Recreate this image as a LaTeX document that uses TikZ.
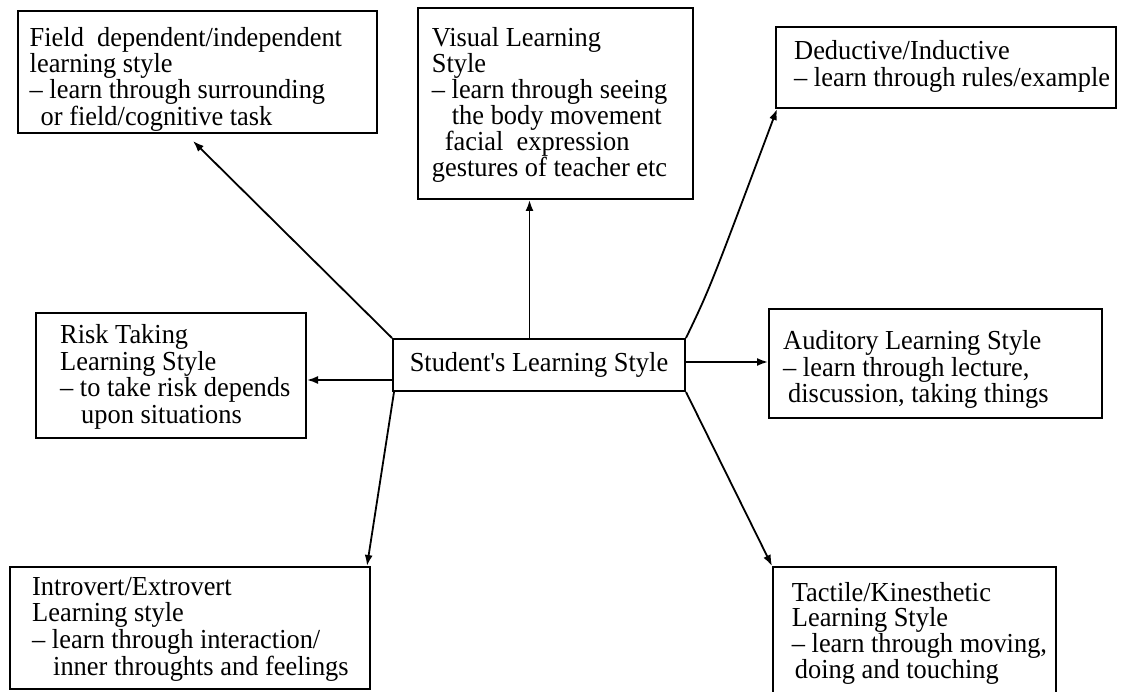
\documentclass[tikz,border=0pt]{standalone}
\usepackage{fontspec}
\setmainfont{Liberation Serif}[FakeStretch=0.96,Ligatures=TeXOff]
\usetikzlibrary{arrows.meta}
\newcommand\boxtext[2]{\parbox[t]{420pt}{\setlength{\baselineskip}{#1}#2}}
\begin{document}
\begin{tikzpicture}[x=1pt,y=-1pt,
  box/.style={draw, line width=2pt, inner sep=0pt, anchor=north west},
  txt/.style={anchor=base west, inner sep=0pt},
  arr/.style={line width=1.8pt, -{Latex[length=11pt,width=8pt]}},
  font=\fontsize{27.5pt}{26pt}\selectfont]
\useasboundingbox (0,0) rectangle (1122,692);
\clip (0,0) rectangle (1122,692);

% boxes
\node[box, minimum width=359pt, minimum height=122pt] (field) at (17,10) {};
\node[box, minimum width=275pt, minimum height=191pt] (visual) at (417,7) {};
\node[box, minimum width=340pt, minimum height=81pt] (deductive) at (775,26) {};
\node[box, minimum width=270pt, minimum height=125pt] (risk) at (35,312) {};
\node[box, minimum width=292pt, minimum height=52pt] (c) at (392,338) {Student's Learning Style};
\node[box, minimum width=333pt, minimum height=109pt] (auditory) at (768,308) {};
\node[box, minimum width=360pt, minimum height=122pt] (introvert) at (9,566) {};
\node[box, minimum width=283pt, minimum height=160pt] (tactile) at (772,566) {};

% texts
\node[txt] (fieldtxt) at (29.5,47) {\boxtext{24.3pt}{Field\ \ dependent/independent\\
learning style\\
– learn through surrounding\\
\hspace*{11pt}or field/cognitive task}};
\node[txt] (visualtxt) at (431.7,46.7) {\boxtext{26pt}{Visual Learning\\
Style\\
– learn through seeing\\
\hspace*{20pt}the body movement\\
\hspace*{13pt}facial\ \ expression\\
gestures of teacher etc}};
\node[txt] (deductivetxt) at (794,60) {\boxtext{26.7pt}{Deductive/Inductive\\
– learn through rules/example}};
\node[txt] (risktxt) at (60,344) {\boxtext{26.4pt}{Risk Taking\\
Learning Style\\
– to take risk depends\\
\hspace*{21pt}upon situations}};
\node[txt] (auditorytxt) at (783,350) {\boxtext{25pt}{Auditory Learning Style\\
– learn through lecture,\\
\hspace*{5pt}discussion, taking things}};
\node[txt] (introverttxt) at (32,595) {\boxtext{26.7pt}{Introvert/Extrovert\\
Learning style\\
– learn through interaction/\\
\hspace*{21pt}inner throughts and feelings}};
\node[txt] (tactiletxt) at (791.7,601) {\boxtext{25.7pt}{Tactile/Kinesthetic\\
Learning Style\\
– learn through moving,\\
\hspace*{3pt}doing and touching}};

% connectors
\coordinate (fieldtip) at (193,141);
\coordinate (vs) at ([xshift=-9.5pt]c.north);
\coordinate (rs) at ([yshift=-15pt]c.west);
\coordinate (as) at ([yshift=3pt]c.east);

\draw[arr] (c.north west) -- (fieldtip);
\draw[arr] (vs) -- (vs |- visual.south);
\draw[arr] (c.north east) .. controls +(24,-50) .. ([xshift=2pt]deductive.south west);
\draw[arr] (rs) -- (rs -| risk.east);
\draw[arr] (as) -- (as -| auditory.west);
\draw[arr] ([xshift=2pt]c.south west) -- ([xshift=-4pt]introvert.north east);
\draw[arr] (c.south east) -- (tactile.north west);
\end{tikzpicture}
\end{document}
